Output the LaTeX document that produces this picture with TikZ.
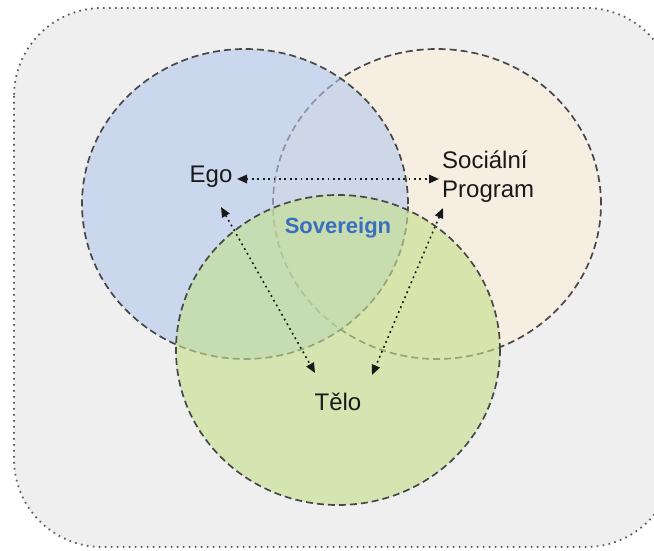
\documentclass[tikz,border=0pt]{standalone}
\usepackage{fontspec}
\setmainfont{Liberation Sans}
\usetikzlibrary{arrows.meta}
\definecolor{bgbox}{RGB}{239,239,239}
\definecolor{blueC}{RGB}{180,200,236}
\definecolor{beigeC}{RGB}{252,240,216}
\definecolor{greenC}{RGB}{196,224,142}
\definecolor{sovblue}{RGB}{58,110,192}
\definecolor{outline}{RGB}{72,72,72}
\begin{document}
\begin{tikzpicture}[x=1pt,y=-1pt,
  venn/.style={draw=outline, line width=1.7pt, dash pattern=on 7pt off 4pt},
  lbl/.style={font=\fontsize{24}{30}\selectfont, text=black!90, inner sep=0pt},
  link/.style={draw=black!90, line width=1.6pt, dash pattern=on 1.8pt off 3.6pt,
    {Triangle[length=10pt,width=8.5pt]}-{Triangle[length=10pt,width=8.5pt]}}]
\useasboundingbox (0,0) rectangle (654,551);
\fill[white] (0,0) rectangle (654,551);
\begin{scope}
\clip (0,0) rectangle (654,551);
\draw[fill=bgbox, draw=black!65, line width=1.8pt, dash pattern=on 1.6pt off 4.4pt, rounded corners=88pt]
  (14,8) rectangle (674,547);
\end{scope}
% circles
\path[venn, fill=beigeC, fill opacity=0.6] (437,204) ellipse [x radius=164pt, y radius=155pt];
\path[venn, fill=blueC, fill opacity=0.6] (245,204) ellipse [x radius=163pt, y radius=155pt];
\path[venn, fill=greenC, fill opacity=0.62] (338,350) ellipse [x radius=162pt, y radius=155pt];
% labels
\node[lbl, anchor=base] (ego) at (211,182) {Ego};
\node[lbl, anchor=base west, align=left] (soc) at (442,197) {Sociální\\[-1pt]Program};
\node[lbl, font=\bfseries\fontsize{22}{26}\selectfont, text=sovblue, anchor=base] (sov) at (338,233) {Sovereign};
\node[lbl, anchor=base] (telo) at (338,410) {Tělo};
% arrow ends
\coordinate (egoR) at (237,179);
\coordinate (socL) at (439,179);
\coordinate (egoD) at (221,207);
\coordinate (teloL) at (315,373);
\coordinate (socD) at (443,208);
\coordinate (teloR) at (372,375);
\draw[link] (egoR) -- (socL);
\draw[link] (egoD) -- (teloL);
\draw[link] (socD) -- (teloR);
\end{tikzpicture}
\end{document}
